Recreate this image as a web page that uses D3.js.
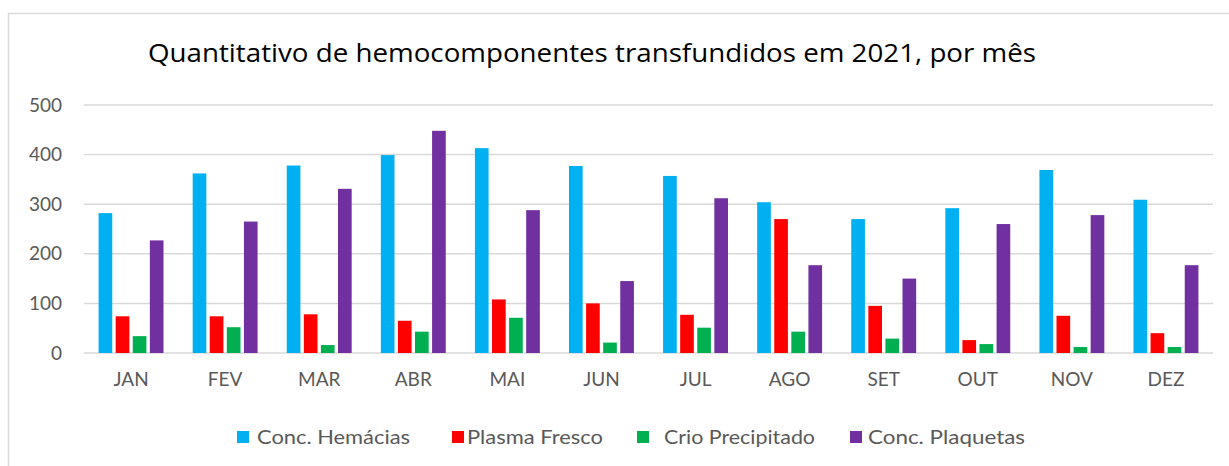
<!DOCTYPE html>
<html><head><meta charset="utf-8">
<script src="https://cdn.jsdelivr.net/npm/d3@7"></script>
<style>body{margin:0;background:#fff}svg{display:block}text{font-family:Lato,"Open Sans",sans-serif}</style>
</head><body><div id="chart"></div>
<script>
const months = ["JAN","FEV","MAR","ABR","MAI","JUN","JUL","AGO","SET","OUT","NOV","DEZ"];
const seriesNames = ["Conc. Hemácias","Plasma Fresco","Crio Precipitado","Conc. Plaquetas"];
const hemacias = [282,362,378,399,413,377,357,304,270,292,369,309];
const plasma = [74,74,78,65,108,100,77,270,95,26,75,40];
const crio = [34,52,16,43,71,21,51,43,29,18,12,12];
const plaquetas = [227,265,331,448,288,145,312,177,150,260,278,177];
const yTicks = [0,100,200,300,400,500];
const colors = ["#00B0F0","#FF0000","#00B050","#7030A0"];
const seriesValues = [hemacias, plasma, crio, plaquetas];

const W = 1229, H = 466;
const svg = d3.select("#chart").append("svg").attr("width", W).attr("height", H);

// chart border
svg.append("rect").attr("x", 8.5).attr("y", 13.5).attr("width", W + 20).attr("height", H + 20)
  .attr("fill", "none").attr("stroke", "#d9d9d9").attr("stroke-width", 1.5);

// title
svg.append("text").attr("x", 148).attr("y", 62)
  .attr("font-size", 25).attr("fill", "#000")
  .style("font-family", "'Open Sans',Lato,sans-serif")
  .attr("textLength", 888).attr("lengthAdjust", "spacingAndGlyphs")
  .text("Quantitativo de hemocomponentes transfundidos em 2021, por mês");

const x0 = d3.scaleBand().domain(months).range([84, 1213]).paddingInner(0.31).paddingOuter(0.155);
const x1 = d3.scaleBand().domain(d3.range(4)).range([0, x0.bandwidth()]).paddingInner(0.2).paddingOuter(0);
const y = d3.scaleLinear().domain([0, 500]).range([353, 105]);

// gridlines
svg.append("g").selectAll("line").data(yTicks).join("line")
  .attr("x1", 84).attr("x2", 1213)
  .attr("y1", d => y(d)).attr("y2", d => y(d))
  .attr("stroke", "#d9d9d9").attr("stroke-width", 1.5);

// y axis labels
const yAxis = d3.axisLeft(y).tickValues(yTicks).tickSize(0).tickPadding(0);
const gy = svg.append("g").attr("transform", "translate(62,0)").call(yAxis);
gy.select(".domain").remove();
gy.selectAll("text").attr("font-size", 19).attr("fill", "#595959").attr("font-family", "Lato,'Open Sans',sans-serif");

// bars
const groups = svg.append("g").selectAll("g").data(months).join("g")
  .attr("transform", d => `translate(${x0(d)},0)`);
groups.selectAll("rect").data((m, i) => seriesValues.map((s, k) => ({k, v: s[i]}))).join("rect")
  .attr("x", d => x1(d.k)).attr("width", x1.bandwidth())
  .attr("y", d => y(d.v)).attr("height", d => y(0) - y(d.v))
  .attr("fill", d => colors[d.k]);

// x axis labels
const xAxis = d3.axisBottom(x0).tickSize(0).tickPadding(0);
const gx = svg.append("g").attr("transform", "translate(0,372)").call(xAxis);
gx.select(".domain").remove();
gx.selectAll("text").attr("font-size", 19).attr("fill", "#595959").attr("font-family", "Lato,'Open Sans',sans-serif");

// legend
const legendSq = [237, 452, 637, 850];
const legendTx = [257, 467, 664, 868];
const legendW = [153, 136, 151, 157];
const lg = svg.append("g").selectAll("g").data(seriesNames).join("g");
lg.append("rect").attr("x", (d, i) => legendSq[i]).attr("y", 431).attr("width", 12).attr("height", 12)
  .attr("fill", (d, i) => colors[i]);
lg.append("text").attr("x", (d, i) => legendTx[i]).attr("y", 444)
  .attr("font-size", 19).attr("fill", "#595959")
  .attr("textLength", (d, i) => legendW[i]).attr("lengthAdjust", "spacingAndGlyphs")
  .text(d => d);
</script></body></html>
